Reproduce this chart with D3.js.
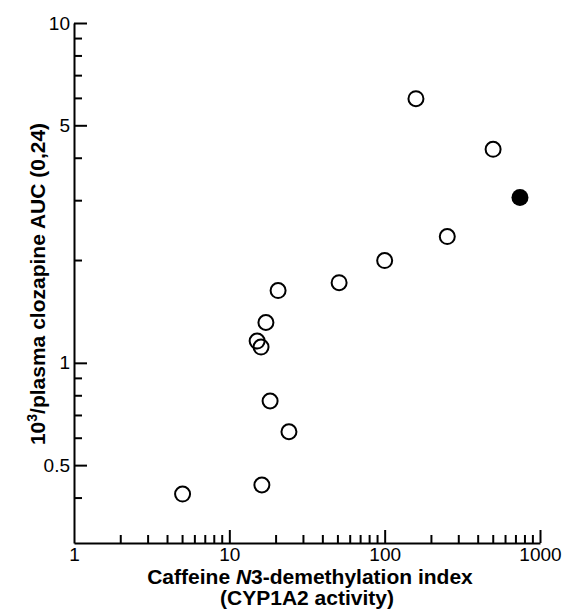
<!DOCTYPE html>
<html>
<head>
<meta charset="utf-8">
<script src="https://cdn.jsdelivr.net/npm/d3@7"></script>
<style>
body { margin: 0; background: #fff; }
text { font-family: "Liberation Sans", Arial, sans-serif; }
</style>
</head>
<body>
<script>
// caffeine N3-demethylation index vs 10^3/AUC
var cafIndex = [5, 16.2, 24.2, 18.3, 15.1, 16, 17.2, 20.6, 50.9, 100, 253, 159, 499];
var aucInv   = [0.411, 0.437, 0.627, 0.772, 1.159, 1.113, 1.314, 1.632, 1.721, 2.0, 2.353, 5.99, 4.25];
// the one filled point
var filledX = [743];
var filledY = [3.066];

var xTicks = [1, 10, 100, 1000];
var yTicks = [0.5, 1, 5, 10];
var xMinor = [2, 3, 4, 5, 6, 7, 8, 9, 20, 30, 40, 50, 60, 70, 80, 90, 200, 300, 400, 500, 600, 700, 800, 900];
var yMinor = [0.4, 0.6, 0.7, 0.8, 0.9, 2, 3, 4, 6, 7, 8, 9];

var svg = d3.select('body')
    .append('svg')
    .attr('width', 563)
    .attr('height', 613)

var x = d3.scaleLog().domain([1, 1000]).range([74, 540])
var y = d3.scaleLog().domain([0.295, 10]).range([543, 23])

var xAxis = d3.axisBottom(x).tickValues(xTicks).tickSizeInner(-13).tickSizeOuter(0).tickFormat(d3.format('d'))
var yAxis = d3.axisLeft(y).tickValues(yTicks).tickSizeInner(-13).tickSizeOuter(0).tickFormat(d => d)

var gx = svg.append('g').attr('transform', 'translate(0,543)').call(xAxis)
var gy = svg.append('g').attr('transform', 'translate(74,0)').call(yAxis)

gx.selectAll('.tick text').attr('y', 5).attr('font-size', 19).attr('fill', '#000')
gy.selectAll('.tick text').attr('x', -4).attr('font-size', 19).attr('fill', '#000')
gx.selectAll('.tick').filter(d => d == 1).select('line').remove()

svg.selectAll('path.domain, .tick line').attr('stroke', '#000').attr('stroke-width', 2)

svg.append('g').selectAll('line')
    .data(xMinor)
    .enter()
    .append('line')
    .attr('x1', d => x(d)).attr('x2', d => x(d))
    .attr('y1', 543).attr('y2', 535)
    .attr('stroke', '#000').attr('stroke-width', 2)

svg.append('g').selectAll('line')
    .data(yMinor)
    .enter()
    .append('line')
    .attr('x1', 74).attr('x2', 82)
    .attr('y1', d => y(d)).attr('y2', d => y(d))
    .attr('stroke', '#000').attr('stroke-width', 2)

// axis titles
svg.append('text')
    .attr('transform', 'translate(45,284) rotate(-90)')
    .attr('text-anchor', 'middle')
    .attr('font-size', 21).attr('font-weight', 'bold')
    .html('10<tspan baseline-shift="super" font-size="14">3</tspan>/plasma clozapine AUC (0,24)')

svg.append('text')
    .attr('x', 310).attr('y', 584)
    .attr('text-anchor', 'middle')
    .attr('font-size', 21).attr('font-weight', 'bold')
    .html('Caffeine <tspan font-style="italic">N</tspan>3-demethylation index')

svg.append('text')
    .attr('x', 307).attr('y', 605)
    .attr('text-anchor', 'middle')
    .attr('font-size', 21).attr('font-weight', 'bold')
    .text('(CYP1A2 activity)')

svg.append('g').selectAll('circle')
    .data(d3.range(cafIndex.length))
    .enter()
    .append('circle')
    .attr('cx', i => x(cafIndex[i]))
    .attr('cy', i => y(aucInv[i]))
    .attr('r', 7.5)
    .attr('fill', 'none')
    .attr('stroke', '#000')
    .attr('stroke-width', 2)

svg.append('g').selectAll('circle')
    .data(d3.range(filledX.length))
    .enter()
    .append('circle')
    .attr('cx', i => x(filledX[i]))
    .attr('cy', i => y(filledY[i]))
    .attr('r', 8.5)
    .attr('fill', '#000')
</script>
</body>
</html>
